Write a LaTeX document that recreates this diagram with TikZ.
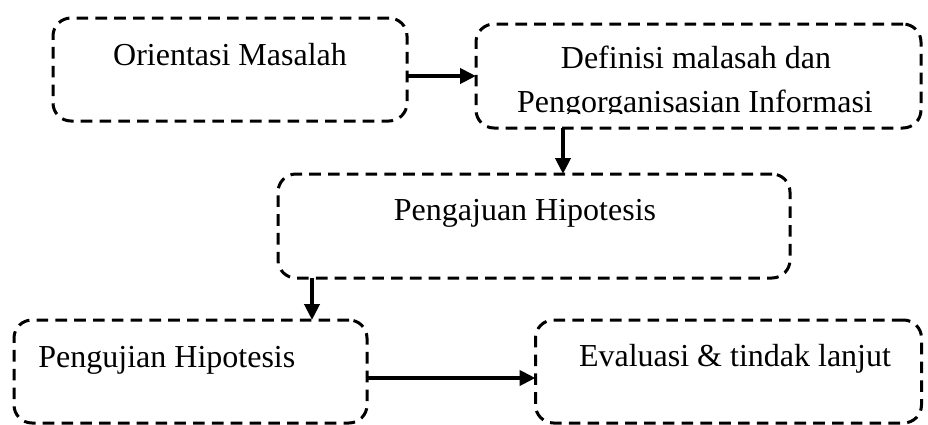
\documentclass[tikz,border=0pt]{standalone}
\usepackage{fontspec}
\setmainfont{Liberation Serif}
\usetikzlibrary{arrows.meta}

\begin{document}
\begin{tikzpicture}[x=0.5pt,y=-0.5pt,font=\fontsize{16}{19}\selectfont]

        \useasboundingbox (0,0) rectangle (928,424);

        \begin{scope}[every node/.style={draw, line width=1.5pt, dash pattern=on 5.8pt off 3.6pt, rounded corners=9pt, inner sep=0pt, outer sep=0pt}]
          \node (1) at (230,69.5)  [minimum width=177pt,   minimum height=51.5pt] {};
          \node (2) at (698.5,76)  [minimum width=222.5pt, minimum height=52pt]   {};
          \node (3) at (534,226)   [minimum width=256pt,   minimum height=52pt]   {};
          \node (4) at (190.5,371.5) [minimum width=176.5pt, minimum height=51.5pt] {};
          \node (5) at (728.5,371.5) [minimum width=193pt,   minimum height=51.5pt] {};
        \end{scope}

        \begin{scope}[every node/.style={inner sep=0pt, anchor=base}]
          \node (1t) at (230,65)  {Orientasi Masalah};
          \node (2t) at (696,68)  {Definisi malasah dan};
          \begin{scope}
            \clip (476,24) rectangle (921,113);
            \node (2u) at (695,112) {Pengorganisasian Informasi};
          \end{scope}
          \node (3t) at (525,220) {Pengajuan Hipotesis};
          \node[anchor=base west] (4t) at (38,367) {Pengujian Hipotesis};
          \node (5t) at (735,366) {Evaluasi \& tindak lanjut};
        \end{scope}

        \begin{scope}[every edge/.style={draw, line width=2.2pt, -{Triangle[length=8pt,width=7.5pt]}}]
          \path (2.west -| 1.east) edge (2.west);
          \path ([xshift=14.5pt]3.north |- 2.south) edge ([xshift=14.5pt]3.north);
          \path ([xshift=17pt]3.south west) edge ([xshift=17pt]3.south west |- 4.north);
          \path ([yshift=-3.25pt]4.east) edge ([yshift=-3.25pt]5.west);
        \end{scope}

      \end{tikzpicture}
\end{document}
